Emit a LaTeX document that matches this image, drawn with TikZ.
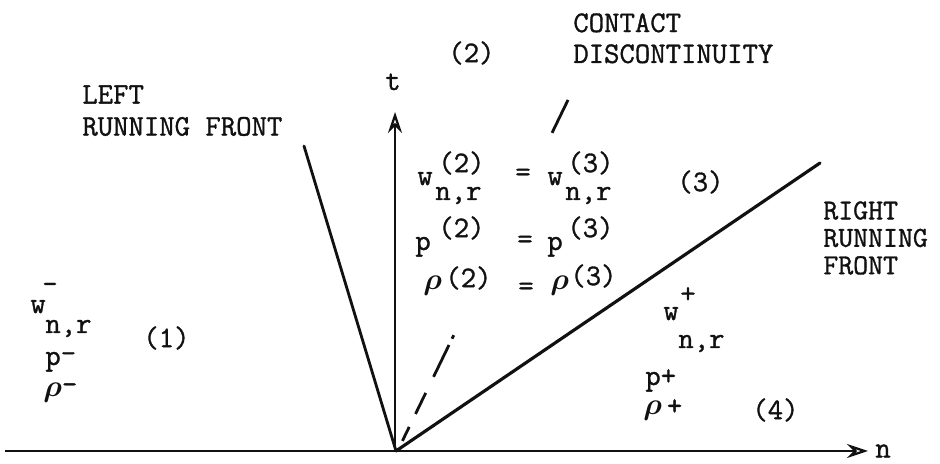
\documentclass[tikz,border=0pt]{standalone}
\usepackage{amsmath}
\usepackage{fontspec}
\setmonofont{Latin Modern Mono}[AutoFakeBold=1.1]
\usepackage{tikz}
\usetikzlibrary{arrows.meta,calc}
\definecolor{ink}{HTML}{111111}
\newcommand{\typew}{\fontsize{17}{20}\selectfont\ttfamily\bfseries}
\tikzset{
  typed/.style={font=\typew,text=ink,inner sep=0pt},
  front/.style={ink,line width=1.6pt,line cap=round},
  axis/.style={-{Stealth[open,length=4.2mm,width=2.8mm]},ink,line width=1.3pt},
  contact/.style={ink,line width=1.6pt},
}

\begin{document}
\begin{tikzpicture}
  \useasboundingbox (0,0) rectangle (18.8,9.28);

  % Origin and far ends of the three waves
  \coordinate (o) at (7.92,0.26);
  \coordinate (nstart) at (0.1,0.26);
  \coordinate (nend) at (17.36,0.26);
  \coordinate (tbase) at (7.9,0.26);
  \coordinate (tend) at (7.9,7.04);
  \coordinate (lf) at (6.08,6.36);
  \coordinate (rf) at (16.4,6.02);
  \coordinate (cd0) at (7.96,0.28);
  \coordinate (cd) at (11.36,7.28);

  % Axes
  \draw[axis] (nstart) -- (nend);
  \draw[axis] (tbase) -- (tend);
  \node[typed,anchor=west] (nlab) at (17.5,0.26) {n};
  \node[typed,anchor=base] (tlab) at (7.86,7.48) {t};

  % Running fronts
  \draw[front] (o) -- (lf);
  \draw[front,line width=1.8pt] (o) -- (rf);

  % Contact discontinuity (broken dashes)
  \foreach \a/\b in {0.026/0.066,0.103/0.163,0.209/0.300,0.318/0.328,0.906/1.0}{
    \draw[contact] ($(cd0)!\a!(cd)$) -- ($(cd0)!\b!(cd)$);
  }

  % Captions
  \node[typed,anchor=north west,align=left,font=\fontsize{17}{17.6}\selectfont\ttfamily\bfseries]
    (contactlab) at (11.46,9.02) {CONTACT\\DISCONTINUITY};
  \node[typed,anchor=north west,align=left,font=\fontsize{17}{18.2}\selectfont\ttfamily\bfseries]
    (leftlab) at (1.64,7.58) {LEFT\\RUNNING FRONT};
  \node[typed,anchor=north west,align=left,font=\fontsize{16.5}{15.6}\selectfont\ttfamily\bfseries]
    (rightlab) at (16.46,5.26) {RIGHT\\RUNNING\\FRONT};

  % Region numbers
  \node[typed,anchor=west] (reg1) at (2.86,2.52) {(1)};
  \node[typed,anchor=west] (reg2) at (8.96,8.22) {(2)};
  \node[typed,anchor=west] (reg3) at (13.54,5.64) {(3)};
  \node[typed,anchor=west] (reg4) at (15.04,1.08) {(4)};

  % Jump conditions across the contact discontinuity
  \node[typed,anchor=base west] (wl) at (8.34,5.58) {w};
  \node[typed,anchor=west] (wlsup) at (8.76,6.02) {(2)};
  \node[typed,anchor=base west] (wlsub) at (8.7,5.28) {n,r};
  \node[typed] (weq) at (10.46,5.78) {=};
  \node[typed,anchor=base west] (wr) at (10.94,5.58) {w};
  \node[typed,anchor=west] (wrsup) at (11.34,6.02) {(3)};
  \node[typed,anchor=base west] (wrsub) at (11.3,5.28) {n,r};

  \node[typed,anchor=base west] (pl) at (8.3,4.28) {p};
  \node[typed,anchor=west] (plsup) at (8.76,4.72) {(2)};
  \node[typed] (peq) at (10.5,4.44) {=};
  \node[typed,anchor=base west] (pr) at (10.94,4.28) {p};
  \node[typed,anchor=west] (prsup) at (11.34,4.72) {(3)};

  \node[typed,anchor=base west] (rl) at (8.46,3.48) {$\boldsymbol{\rho}$};
  \node[typed,anchor=west] (rlsup) at (8.9,3.72) {(2)};
  \node[typed] (req) at (10.52,3.5) {=};
  \node[typed,anchor=base west] (rr) at (11.0,3.48) {$\boldsymbol{\rho}$};
  \node[typed,anchor=west] (rrsup) at (11.4,3.76) {(3)};

  % Left state
  \node[typed,anchor=base west] (wm) at (0.6,3.02) {w};
  \node[typed] (wmsup) at (1.0,3.52) {-};
  \node[typed,anchor=base west] (wmsub) at (0.9,2.62) {n,r};
  \node[typed,anchor=base west] (pm) at (0.9,1.98) {p\raisebox{1.5pt}{-}};
  \node[typed,anchor=base west] (rm) at (0.86,1.34) {$\boldsymbol{\rho}$\raisebox{2pt}{-}};

  % Right state
  \node[typed,anchor=base west] (wp) at (13.26,2.88) {w};
  \node[typed] (wpsup) at (13.76,3.38) {+};
  \node[typed,anchor=base west] (wpsub) at (13.56,2.32) {n,r};
  \node[typed,anchor=base west] (pp) at (12.9,1.58) {p+};
  \node[typed,anchor=base west] (rp) at (12.86,0.98) {$\boldsymbol{\rho}$\,+};
\end{tikzpicture}
\end{document}
